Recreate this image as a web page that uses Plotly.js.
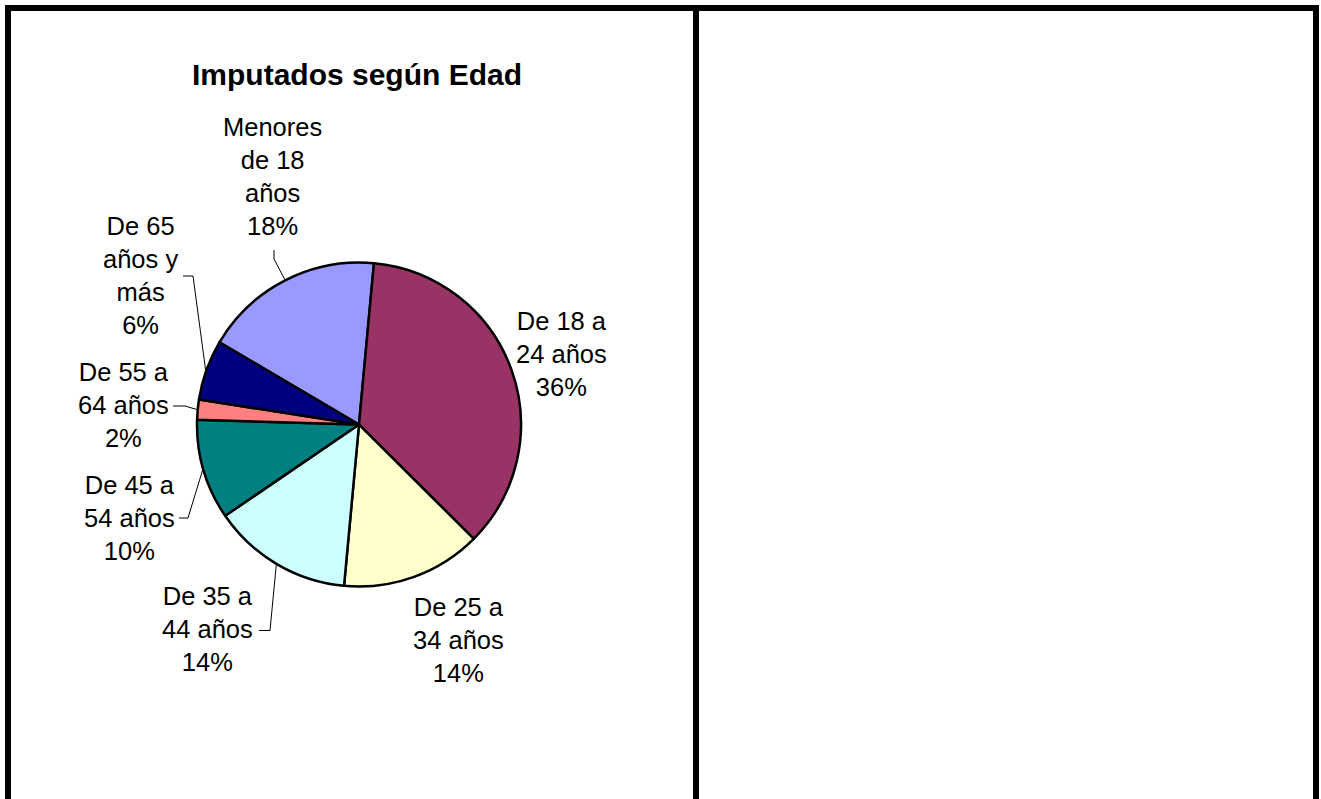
<!DOCTYPE html>
<html><head><meta charset="utf-8">
<script src="https://cdn.plot.ly/plotly-3.0.1.min.js"></script>
<style>html,body{margin:0;padding:0;background:#fff;overflow:hidden}#chart{width:1321px;height:799px}</style>
</head><body><div id="chart"></div>
<script>
// ---- data ----
const chartTitle = "Imputados según Edad";
const categories = ["Menores de 18 años", "De 18 a 24 años", "De 25 a 34 años", "De 35 a 44 años", "De 45 a 54 años", "De 55 a 64 años", "De 65 años y más"];
const labelText = ["Menores<br>de 18<br>años", "De 18 a<br>24 años", "De 25 a<br>34 años", "De 35 a<br>44 años", "De 45 a<br>54 años", "De 55 a<br>64 años", "De 65<br>años y<br>más"];
const percentValues = [18, 36, 14, 14, 10, 2, 6];
const sliceColors = ["#9999FF", "#993366", "#FFFFCC", "#CCFFFF", "#008080", "#FF8080", "#000080"];

// ---- layout geometry (pixels) ----
const W = 1321, H = 799;
const px = x => x / W;
const py = y => 1 - y / H;
const CX = 359, CY = 424.5, R = 162;
const ROT = -59.5;
const FONT = "Arial, 'Liberation Sans', sans-serif";
// label block centres and leader elbows (pixels)
const labelPlace = [
  {c: [272.5, 176.5], lead: [[274, 250], [274, 259]]},
  {c: [561, 353.5], lead: null},
  {c: [458, 640.3], lead: null},
  {c: [207, 629.3], lead: [[259, 630.5], [270, 630.5]]},
  {c: [129, 517.5], lead: [[179, 518], [188, 518]]},
  {c: [123, 404.8], lead: [[173, 406], [185, 406]]},
  {c: [140.5, 275.7], lead: [[183, 276], [193, 276]]}
];

const total = percentValues.reduce((a, b) => a + b, 0);
const annotations = [];
const shapes = [];
let cum = 0;
percentValues.forEach((v, i) => {
  const mid = (ROT + (cum + v / 2) / total * 360) * Math.PI / 180;
  cum += v;
  const edge = [CX + (R + 1) * Math.sin(mid), CY - (R + 1) * Math.cos(mid)];
  const pl = labelPlace[i];
  annotations.push({
    xref: "paper", yref: "paper", x: px(pl.c[0]), y: py(pl.c[1]),
    xanchor: "center", yanchor: "middle", align: "center", showarrow: false,
    text: labelText[i] + "<br>" + Math.round(v / total * 100) + "%",
    font: {family: FONT, size: 25.5, color: "#000"}
  });
  if (pl.lead) {
    const pts = pl.lead.concat([edge]);
    for (let k = 0; k < pts.length - 1; k++) {
      shapes.push({type: "line", xref: "paper", yref: "paper",
        x0: px(pts[k][0]), y0: py(pts[k][1]), x1: px(pts[k + 1][0]), y1: py(pts[k + 1][1]),
        line: {color: "#000", width: 1}});
    }
  }
});

// frame
const frame = [[5, 8, 1319, 8], [8, 5, 8, 799], [696, 5, 696, 799], [1316, 5, 1316, 799]];
frame.forEach(f => shapes.push({type: "line", xref: "paper", yref: "paper",
  x0: px(f[0]), y0: py(f[1]), x1: px(f[2]), y1: py(f[3]), line: {color: "#000", width: 6}}));

const trace = {
  type: "pie",
  labels: categories,
  values: percentValues,
  sort: false,
  direction: "clockwise",
  rotation: ROT,
  textinfo: "none",
  hoverinfo: "label+percent",
  marker: {colors: sliceColors, line: {color: "#000", width: 2.5}},
  domain: {x: [px(CX - R), px(CX + R)], y: [py(CY + R), py(CY - R)]},
  showlegend: false
};

const layout = {
  width: W, height: H,
  margin: {l: 0, r: 0, t: 0, b: 0},
  paper_bgcolor: "#fff", plot_bgcolor: "#fff",
  showlegend: false,
  title: {text: "<b>" + chartTitle + "</b>", x: px(357), y: py(74), xref: "paper", yref: "container",
    xanchor: "center", yanchor: "middle", font: {family: FONT, size: 30, color: "#000"}},
  annotations: annotations,
  shapes: shapes
};

Plotly.newPlot("chart", [trace], layout, {displayModeBar: false, staticPlot: true});
</script>
</body></html>
